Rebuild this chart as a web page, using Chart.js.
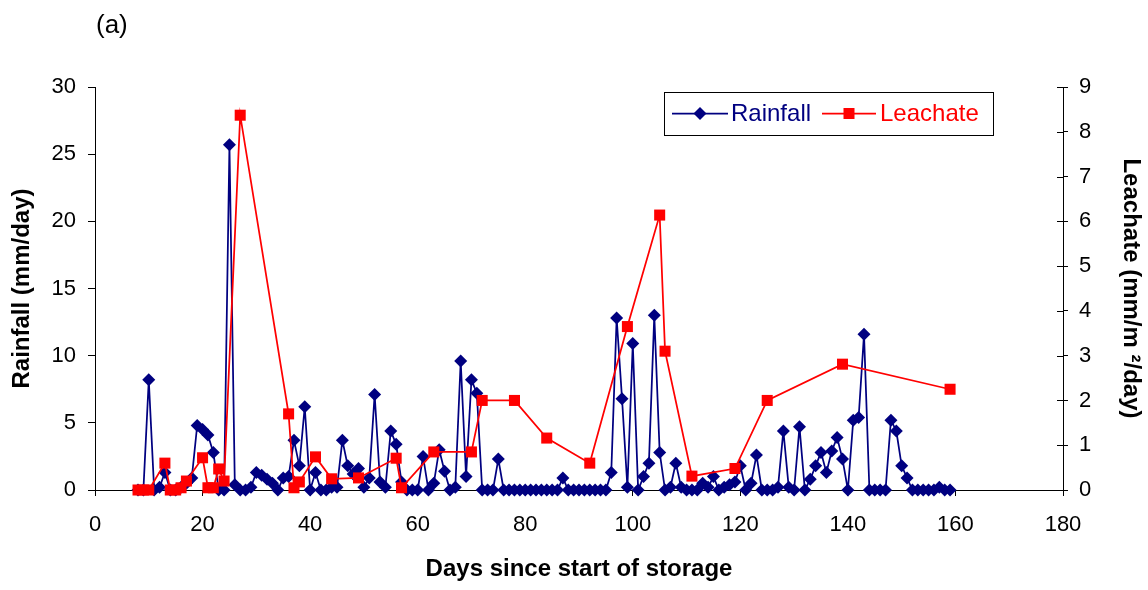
<!DOCTYPE html>
<html><head><meta charset="utf-8">
<script src="https://cdn.jsdelivr.net/npm/chart.js@4.4.1/dist/chart.umd.min.js"></script>
<style>html,body{margin:0;padding:0;background:#fff;}#wrap{position:relative;width:1148px;height:590px;}</style>
</head><body><div id="wrap"><canvas id="c" width="1148" height="590"></canvas></div>
<script>
// ---- data ----
const panelLabel = '(a)';
const xTitle = 'Days since start of storage';
const yLeftTitle = 'Rainfall (mm/day)';
const yRightTitle = 'Leachate (mm/m \u00B2/day)';
const seriesNames = ['Rainfall', 'Leachate'];

const rainDays = [8,9,10,11,12,13,14,15,16,17,18,19,20,21,22,23,24,25,26,27,28,29,30,31,32,33,34,35,36,37,38,39,40,41,42,43,44,45,46,47,48,49,50,51,52,53,54,55,56,57,58,59,60,61,62,63,64,65,66,67,68,69,70,71,72,73,74,75,76,77,78,79,80,81,82,83,84,85,86,87,88,89,90,91,92,93,94,95,96,97,98,99,100,101,102,103,104,105,106,107,108,109,110,111,112,113,114,115,116,117,118,119,120,121,122,123,124,125,126,127,128,129,130,131,132,133,134,135,136,137,138,139,140,141,142,143,144,145,146,147,148,149,150,151,152,153,154,155,156,157,158,159];
const rainfall = [0,0,8.2,0,0.2,1.3,0,0,0.2,0.5,0.9,4.8,4.5,4.1,2.8,0,0,25.7,0.4,0,0,0.2,1.3,1.1,0.8,0.5,0,0.9,1.0,3.7,1.8,6.2,0,1.3,0,0,0.2,0.2,3.7,1.8,1.2,1.6,0.2,0.9,7.1,0.6,0.2,4.4,3.4,0.6,0,0,0,2.5,0,0.5,3.0,1.4,0,0.2,9.6,1.0,8.2,7.2,0,0,0,2.3,0,0,0,0,0,0,0,0,0,0,0,0.9,0,0,0,0,0,0,0,0,1.3,12.8,6.8,0.2,10.9,0,1.0,2.0,13.0,2.8,0,0.2,2.0,0.2,0,0,0,0.5,0.2,1.0,0,0.2,0.4,0.6,1.8,0,0.5,2.6,0,0,0,0.2,4.4,0.2,0,4.7,0,0.8,1.8,2.8,1.3,2.9,3.9,2.3,0,5.2,5.4,11.6,0,0,0,0,5.2,4.4,1.8,0.9,0,0,0,0,0,0.2,0,0];

const leachDays = [8,9,10,13,14,15,16,17,20,21,22,23,24,27,36,37,38,41,44,49,56,57,63,70,72,78,84,92,99,105,106,111,119,125,139,159];
const leachate = [0,0,0,0.6,0,0,0.05,0.2,0.72,0.05,0.05,0.47,0.2,8.37,1.7,0.05,0.18,0.74,0.25,0.27,0.71,0.05,0.85,0.85,2.0,2.0,1.16,0.6,3.65,6.14,3.1,0.31,0.48,2.0,2.81,2.25];

const xTicks = [0,20,40,60,80,100,120,140,160,180];
const yLeftTicks = [0,5,10,15,20,25,30];
const yRightTicks = [0,1,2,3,4,5,6,7,8,9];

// ---- styles ----
const NAVY = '#000080', RED = '#FF0000';
const FONT = "'Liberation Sans', Arial, sans-serif";

const toPts = (xs, ys) => xs.map((x, i) => ({x: x, y: ys[i]}));

const extras = {
  id: 'extras',
  afterDraw(chart) {
    const ctx = chart.ctx;
    ctx.save();
    ctx.fillStyle = '#000';
    ctx.font = '26px ' + FONT;
    ctx.textBaseline = 'alphabetic';
    ctx.textAlign = 'left';
    ctx.fillText(panelLabel, 96, 33);
    const y1 = chart.scales.y1;
    ctx.strokeStyle = '#000'; ctx.lineWidth = 1;
    yRightTicks.forEach(v => {
      const py = Math.round(y1.getPixelForValue(v)) + 0.5;
      ctx.beginPath(); ctx.moveTo(y1.left - 6, py); ctx.lineTo(y1.left, py); ctx.stroke();
    });
    const bx = 664.5, by = 92.5, bw = 329, bh = 43;
    ctx.fillStyle = '#fff'; ctx.fillRect(bx, by, bw, bh);
    ctx.strokeStyle = '#000'; ctx.lineWidth = 1; ctx.strokeRect(bx, by, bw, bh);
    const ly = 113.5;
    ctx.lineWidth = 1.75;
    ctx.strokeStyle = NAVY; ctx.beginPath(); ctx.moveTo(672, ly); ctx.lineTo(728, ly); ctx.stroke();
    ctx.fillStyle = NAVY; ctx.beginPath();
    ctx.moveTo(700, ly - 6.5); ctx.lineTo(706.5, ly); ctx.lineTo(700, ly + 6.5); ctx.lineTo(693.5, ly); ctx.closePath(); ctx.fill();
    ctx.strokeStyle = RED; ctx.beginPath(); ctx.moveTo(822, ly); ctx.lineTo(876, ly); ctx.stroke();
    ctx.fillStyle = RED; ctx.fillRect(843.5, ly - 5.5, 11, 11);
    ctx.font = '24px ' + FONT; ctx.textBaseline = 'middle';
    ctx.fillStyle = NAVY; ctx.fillText(seriesNames[0], 731, ly + 1);
    ctx.fillStyle = RED; ctx.fillText(seriesNames[1], 880, ly + 1);
    ctx.restore();
  }
};

new Chart(document.getElementById('c'), {
  type: 'line',
  data: {
    datasets: [
      { label: seriesNames[0], data: toPts(rainDays, rainfall), yAxisID: 'y', order: 1,
        borderColor: NAVY, backgroundColor: NAVY, borderWidth: 1.75, tension: 0,
        pointStyle: 'rectRot', pointRadius: 6.5, pointBorderWidth: 0, pointBackgroundColor: NAVY, clip: false },
      { label: seriesNames[1], data: toPts(leachDays, leachate), yAxisID: 'y1', order: 0,
        borderColor: RED, backgroundColor: RED, borderWidth: 1.75, tension: 0,
        pointStyle: 'rect', pointRadius: 7.8, pointBorderWidth: 0, pointBackgroundColor: RED, clip: false }
    ]
  },
  options: {
    responsive: false, animation: false, devicePixelRatio: 1,
    layout: { padding: { top: 87, left: 0, right: 0, bottom: 0 } },
    plugins: { legend: { display: false }, tooltip: { enabled: false }, title: { display: false } },
    scales: {
      x: {
        type: 'linear', min: 0, max: 180,
        afterFit(s) { s.height = 100; },
        afterBuildTicks(s) { s.ticks = xTicks.map(v => ({value: v})); },
        ticks: { color: '#000', font: { family: FONT, size: 22 }, padding: 16, maxRotation: 0 },
        grid: { display: true, drawOnChartArea: false, drawTicks: true, tickLength: 6, color: '#000' },
        border: { display: true, color: '#000', width: 1 },
        title: { display: true, text: xTitle, color: '#000', font: { family: FONT, size: 24, weight: 'bold' }, padding: { top: 0, bottom: 6 } }
      },
      y: {
        type: 'linear', position: 'left', min: 0, max: 30,
        afterFit(s) { s.width = 95; },
        afterBuildTicks(s) { s.ticks = yLeftTicks.map(v => ({value: v})); },
        ticks: { color: '#000', font: { family: FONT, size: 22 }, padding: 12 },
        grid: { display: true, drawOnChartArea: false, drawTicks: true, tickLength: 7, color: '#000' },
        border: { display: true, color: '#000', width: 1 },
        title: { display: true, text: yLeftTitle, color: '#000', font: { family: FONT, size: 24, weight: 'bold' }, padding: { top: 8, bottom: 0 } }
      },
      y1: {
        type: 'linear', position: 'right', min: 0, max: 9,
        afterFit(s) { s.width = 85; },
        afterBuildTicks(s) { s.ticks = yRightTicks.map(v => ({value: v})); },
        ticks: { color: '#000', font: { family: FONT, size: 22 }, padding: 11 },
        grid: { display: true, drawOnChartArea: false, drawTicks: true, tickLength: 5, color: '#000' },
        border: { display: true, color: '#000', width: 1 },
        title: { display: true, text: yRightTitle, color: '#000', font: { family: FONT, size: 24, weight: 'bold' }, padding: { top: 3, bottom: 0 } }
      }
    }
  },
  plugins: [extras]
});
</script>
</body></html>
